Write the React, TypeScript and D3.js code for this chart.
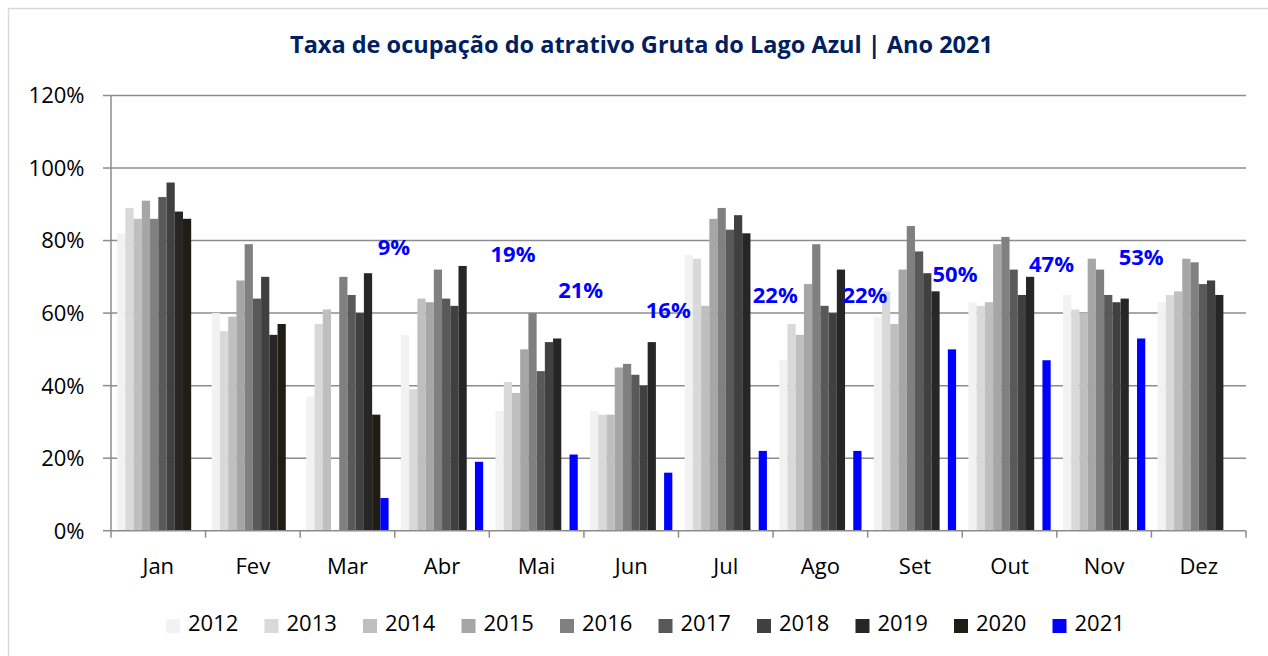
import React from 'react';
import * as d3 from 'd3';

const months = ['Jan', 'Fev', 'Mar', 'Abr', 'Mai', 'Jun', 'Jul', 'Ago', 'Set', 'Out', 'Nov', 'Dez'];
const years = ['2012', '2013', '2014', '2015', '2016', '2017', '2018', '2019', '2020', '2021'];
const v2012 = [82, 60, 37, 54, 33, 33, 76, 47, 59, 63, 65, 63];
const v2013 = [89, 55, 57, 39, 41, 32, 75, 57, 66, 62, 61, 65];
const v2014 = [86, 59, 61, 64, 38, 32, 62, 54, 57, 63, 60, 66];
const v2015 = [91, 69, null, 63, 50, 45, 86, 68, 72, 79, 75, 75];
const v2016 = [86, 79, 70, 72, 60, 46, 89, 79, 84, 81, 72, 74];
const v2017 = [92, 64, 65, 64, 44, 43, 83, 62, 77, 72, 65, 68];
const v2018 = [96, 70, 60, 62, 52, 40, 87, 60, 71, 65, 63, 69];
const v2019 = [88, 54, 71, 73, 53, 52, 82, 72, 66, 70, 64, 65];
const v2020 = [86, 57, 32, null, null, null, null, null, null, null, null, null];
const v2021 = [null, null, 9, 19, 21, 16, 22, 22, 50, 47, 53, null];
const yTicks = [0, 20, 40, 60, 80, 100, 120];
const colors = ['#f2f2f2', '#d9d9d9', '#bfbfbf', '#a6a6a6', '#808080', '#595959', '#404040', '#262626', '#1f1e14', '#0000ff'];
// label placement for the 2021 annotations: [x offset from month centre (px), y level (% units)]
const labelPlacement: [number, number][] = [
  [0, 0], [0, 0], [46.5, 78.3], [71, 76.3], [44, 66.4], [37, 60.7], [49.5, 65], [44.5, 65], [40, 70.7], [42, 73.6], [37, 75.4], [0, 0],
];

const series = [v2012, v2013, v2014, v2015, v2016, v2017, v2018, v2019, v2020, v2021];

const W = 1268;
const H = 656;
const plot = { left: 111, right: 1246, top: 95.5, bottom: 530.7 };
const FONT = '"Open Sans", Lato, sans-serif';

export default function App() {
  const x0 = d3.scaleBand<string>().domain(months).range([plot.left, plot.right]).padding(0);
  const x1 = d3.scaleBand<string>().domain(years).range([0, x0.bandwidth()]).paddingInner(0).paddingOuter(0.75);
  const y = d3.scaleLinear().domain([0, 120]).range([plot.bottom, plot.top]);

  const legendStart = 166;
  const legendStep = 98.5;

  return (
    <svg width={W} height={H} style={{ position: 'absolute', left: 0, top: 0, background: '#fff' }} fontFamily={FONT}>
      <rect x={0} y={0} width={W} height={H} fill="#fff" />
      <rect x={8.5} y={8.5} width={W + 10} height={H + 10} fill="none" stroke="#d9d9d9" strokeWidth={1.5} />
      <text x={641.5} y={53} textAnchor="middle" fontWeight="bold" fontSize={23.5} fill="#002060">
        Taxa de ocupação do atrativo Gruta do Lago Azul | Ano 2021
      </text>
      {/* gridlines */}
      {yTicks.map((t) => (
        <g key={t}>
          {t > 0 && (
            <line x1={plot.left} x2={plot.right} y1={y(t)} y2={y(t)} stroke="#8c8c8c" strokeWidth={1.5} />
          )}
          <line x1={plot.left - 8} x2={plot.left} y1={y(t)} y2={y(t)} stroke="#8c8c8c" strokeWidth={1.5} />
          <text x={84.5} y={y(t)} dy="0.36em" textAnchor="end" fontSize={22} fill="#000">
            {t}%
          </text>
        </g>
      ))}
      {/* bars */}
      {series.map((vals, si) => (
        <g key={years[si]} fill={colors[si]}>
          {vals.map((v, mi) =>
            v == null ? null : (
              <rect
                key={mi}
                x={(x0(months[mi]) as number) + (x1(years[si]) as number)}
                y={y(v)}
                width={x1.bandwidth()}
                height={y(0) - y(v)}
              />
            )
          )}
        </g>
      ))}
      {/* axes */}
      <line x1={plot.left} x2={plot.left} y1={plot.top} y2={plot.bottom} stroke="#8c8c8c" strokeWidth={1.5} />
      <line x1={plot.left} x2={plot.right} y1={plot.bottom} y2={plot.bottom} stroke="#8c8c8c" strokeWidth={1.5} />
      {months.map((m) => (
        <line
          key={'t' + m}
          x1={x0(m) as number}
          x2={x0(m) as number}
          y1={plot.bottom}
          y2={plot.bottom + 7}
          stroke="#8c8c8c"
          strokeWidth={1.5}
        />
      ))}
      <line x1={plot.right} x2={plot.right} y1={plot.bottom} y2={plot.bottom + 7} stroke="#8c8c8c" strokeWidth={1.5} />
      {months.map((m) => (
        <text key={'l' + m} x={(x0(m) as number) + x0.bandwidth() / 2} y={574} textAnchor="middle" fontSize={22} fill="#000">
          {m}
        </text>
      ))}
      {/* 2021 labels */}
      {v2021.map((v, mi) =>
        v == null ? null : (
          <text
            key={'d' + mi}
            x={(x0(months[mi]) as number) + x0.bandwidth() / 2 + labelPlacement[mi][0]}
            y={y(labelPlacement[mi][1])}
            dy="0.36em"
            textAnchor="middle"
            fontWeight="bold"
            fontSize={22}
            fill="#0000ff"
          >
            {v}%
          </text>
        )
      )}
      {/* legend */}
      {years.map((yr, i) => (
        <g key={'lg' + yr} transform={`translate(${legendStart + i * legendStep},0)`}>
          <rect x={0} y={619} width={14} height={14} fill={colors[i]} />
          <text x={22} y={631} fontSize={22} fill="#000">
            {yr}
          </text>
        </g>
      ))}
    </svg>
  );
}
